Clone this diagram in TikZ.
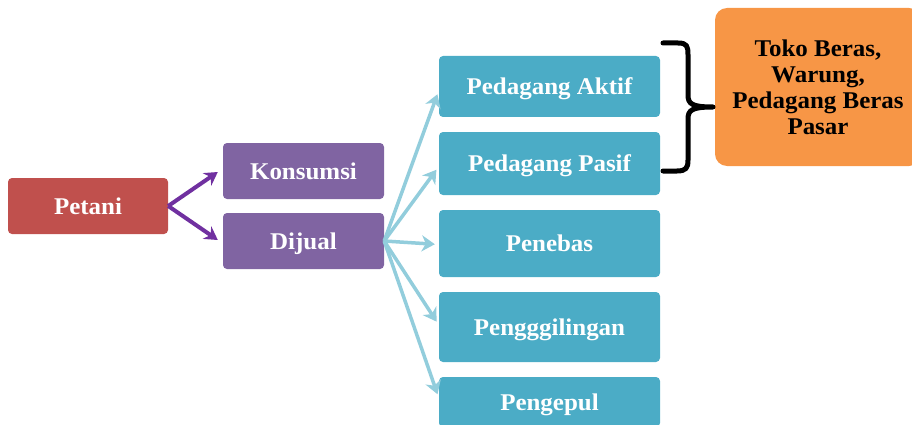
\documentclass[tikz,border=0pt]{standalone}
\usepackage{fontspec}
\setmainfont[FakeStretch=1.04]{Liberation Serif}
\usetikzlibrary{arrows.meta,calc}
\definecolor{cred}{HTML}{C0504D}
\definecolor{cpurple}{HTML}{8064A2}
\definecolor{cdark}{HTML}{7030A0}
\definecolor{cteal}{HTML}{4BACC6}
\definecolor{clight}{HTML}{92CDDC}
\definecolor{corange}{HTML}{F79646}
\tikzset{
  box/.style={rectangle, rounded corners=4pt, inner sep=0pt, text=white,
    font=\fontsize{24}{26}\selectfont\bfseries, align=center},
  onel/.style={text height=16pt, text depth=0pt},
  redbox/.style={box, onel, fill=cred, minimum width=160pt, minimum height=56pt},
  purplebox/.style={box, onel, fill=cpurple, minimum width=161pt, minimum height=56pt},
  tealbox/.style={box, onel, fill=cteal, minimum width=221pt},
  orangebox/.style={box, fill=corange, text=black, rounded corners=12pt,
    minimum width=206pt, minimum height=158pt},
  parrow/.style={draw=cdark, line width=4pt, -{Stealth[length=13pt,width=15pt]}},
  barrow/.style={draw=clight, line width=3.5pt, -{Stealth[length=13pt,width=16pt,inset=4pt]}, shorten >=4pt},
}
\begin{document}
\begin{tikzpicture}[x=1pt,y=-1pt]
\useasboundingbox (0,0) rectangle (912,425);
\clip (0,0) rectangle (912,425);
\node[redbox] (petani) at (88,206) {Petani};
\node[purplebox] (kons) at (303.5,171) {Konsumsi};
\node[purplebox] (dijual) at (303.5,241) {Dijual};
\node[tealbox, minimum height=61pt] (aktif) at (549.5,86.5) {Pedagang Aktif};
\node[tealbox, minimum height=63pt] (pasif) at (549.5,163.5) {Pedagang Pasif};
\node[tealbox, minimum height=67pt] (penebas) at (549.5,243.5) {Penebas};
\node[tealbox, minimum height=70pt] (peng) at (549.5,327) {Pengggilingan};
\node[tealbox, minimum height=50pt] (pengepul) at (549.5,402) {Pengepul};
\node[orangebox] (toko) at (818,87) {Toko Beras,\\Warung,\\Pedagang Beras\\Pasar};
\draw[parrow] (petani.east) -- ($(kons.west)+(-5,1)$);
\draw[parrow] (petani.east) -- ($(dijual.west)+(-5,-1)$);
\draw[barrow] (dijual.east) -- ($(aktif.west)+(0,4)$);
\draw[barrow] (dijual.east) -- ($(pasif.west)+(0,3)$);
\draw[barrow] (dijual.east) -- ($(penebas.west)+(0,1)$);
\draw[barrow] (dijual.east) -- ($(peng.west)+(0,-2)$);
\draw[barrow] (dijual.east) -- ($(pengepul.west)+(0,-4)$);
\draw[line width=5pt, line cap=round, line join=round]
  (663,43) -- (678,43) .. controls (687,43) and (688,46) .. (688,55) -- (688,95)
  .. controls (688,104) and (692,107) .. (713,107)
  .. controls (692,107) and (688,110) .. (688,119) -- (688,160)
  .. controls (688,168) and (686,171) .. (677,171) -- (663,171);
\end{tikzpicture}
\end{document}
